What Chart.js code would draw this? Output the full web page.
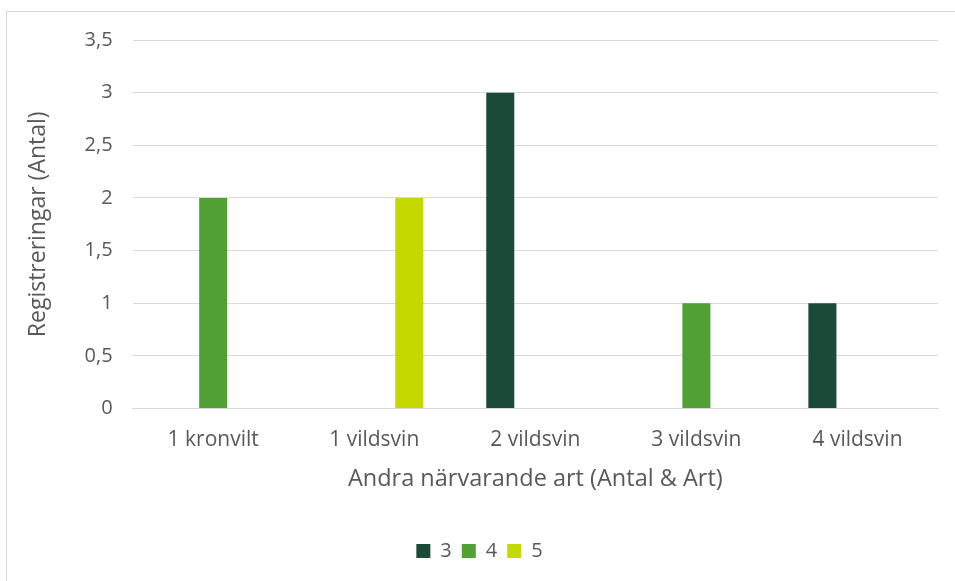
<!DOCTYPE html>
<html>
<head>
<meta charset="utf-8">
<script src="https://cdn.jsdelivr.net/npm/chart.js@4"></script>
<style>
  html, body { margin: 0; padding: 0; background: #fff; overflow: hidden; }
  #card {
    position: absolute; left: 6px; top: 11px;
    width: 960px; height: 580px;
    border: 1px solid #d9d9d9; box-sizing: border-box;
  }
  #wrap { position: absolute; left: 7px; top: 8px; width: 948px; height: 573px; }
</style>
</head>
<body>
<div id="card"></div>
<div id="wrap"><canvas id="chart"></canvas></div>
<script>
// categories along x
const arter = ["1 kronvilt", "1 vildsvin", "2 vildsvin", "3 vildsvin", "4 vildsvin"];

// registrations per series
const serie3 = [null, null, 3, null, 1];
const serie4 = [2, null, null, 1, null];
const serie5 = [null, 2, null, null, null];

const serieNamn = ["3", "4", "5"];
const farger = ["#1a4b39", "#50a033", "#c5d800"];

const fontFamily = "'Open Sans', 'Noto Sans', sans-serif";
const textColor = "#595959";

new Chart(document.getElementById("chart"), {
  type: "bar",
  data: {
    labels: arter,
    datasets: [serie3, serie4, serie5].map((d, i) => ({
      label: serieNamn[i],
      data: d,
      backgroundColor: farger[i],
      barPercentage: 0.8,
      categoryPercentage: 0.653
    }))
  },
  options: {
    responsive: true,
    maintainAspectRatio: false,
    animation: false,
    layout: { padding: { left: 14, right: 17, top: 8, bottom: 10 } },
    plugins: {
      tooltip: { enabled: false },
      legend: {
        position: "bottom",
        labels: {
          boxWidth: 14, boxHeight: 14, padding: 10,
          color: textColor,
          font: { family: fontFamily, size: 20 }
        }
      }
    },
    scales: {
      x: {
        grid: { display: false },
        border: { color: "#d9d9d9" },
        ticks: { color: textColor, font: { family: fontFamily, size: 21 }, padding: 11 },
        title: {
          display: true, text: "Andra närvarande art (Antal & Art)",
          color: textColor, font: { family: fontFamily, size: 23.5 },
          padding: { top: 1, bottom: 38 }
        }
      },
      y: {
        min: 0, max: 3.5,
        grid: { color: "#d9d9d9", drawTicks: false },
        border: { display: false },
        ticks: {
          stepSize: 0.5, padding: 20,
          color: textColor, font: { family: fontFamily, size: 20 },
          callback: v => String(v).replace(".", ",")
        },
        title: {
          display: true, text: "Registreringar (Antal)",
          color: textColor, font: { family: fontFamily, size: 23 },
          padding: { bottom: 12 }
        }
      }
    }
  }
});
</script>
</body>
</html>
